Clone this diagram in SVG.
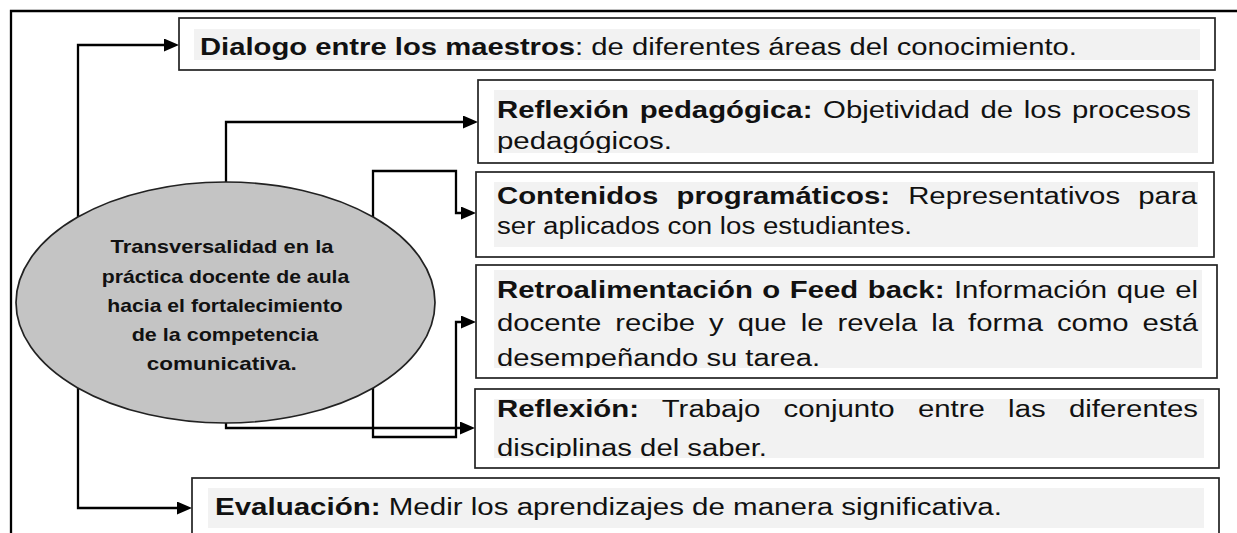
<svg xmlns="http://www.w3.org/2000/svg" width="1237" height="533" viewBox="0 0 1237 533">
<style>
.frame{fill:none;stroke:#000;stroke-width:2.3}
.box{fill:#fff;stroke:#222;stroke-width:1.7}
.shade{fill:#f2f2f2}
.con{fill:none;stroke:#000;stroke-width:2.3}
.t{font-family:"Liberation Sans",Arial,sans-serif;font-size:23px;fill:#111}
.b{font-weight:bold}
.et{font-family:"Liberation Sans",Arial,sans-serif;font-size:19px;font-weight:bold;fill:#111;text-anchor:middle}
</style>
<defs>
<marker id="arr" markerUnits="userSpaceOnUse" markerWidth="16" markerHeight="14" refX="1" refY="6.5" orient="auto">
<path d="M0,0 L15,6.5 L0,13 z" fill="#000"/>
</marker>
<clipPath id="c1"><rect x="194" y="29" width="1006" height="31"/></clipPath>
<clipPath id="c2"><rect x="494" y="90" width="704" height="63"/></clipPath>
<clipPath id="c3"><rect x="494" y="182" width="704" height="65"/></clipPath>
<clipPath id="c4"><rect x="494" y="270" width="708" height="98"/></clipPath>
<clipPath id="c5"><rect x="494" y="399" width="710" height="59"/></clipPath>
<clipPath id="c6"><rect x="208" y="488" width="996" height="40"/></clipPath>
</defs>
<path class="frame" d="M11,533 V11 H1237"/>
<g id="connectors">
<path class="con" d="M78,300 V45 H165" marker-end="url(#arr)"/>
<path class="con" d="M78,300 V508 H178" marker-end="url(#arr)"/>
<path class="con" d="M226,300 V122 H464" marker-end="url(#arr)"/>
<path class="con" d="M373,300 V171 H456 V213 H462" marker-end="url(#arr)"/>
<path class="con" d="M373,300 V437 H456 V322 H462" marker-end="url(#arr)"/>
<path class="con" d="M226,300 V428 H461" marker-end="url(#arr)"/>
</g>
<g id="center">
<ellipse cx="225.5" cy="302.5" rx="209.5" ry="120.5" fill="#c4c4c4" stroke="#222" stroke-width="1.7"/>
<text class="et" x="222" y="253" textLength="223" lengthAdjust="spacingAndGlyphs">Transversalidad en la</text>
<text class="et" x="225.5" y="282.5" textLength="247.6" lengthAdjust="spacingAndGlyphs">práctica docente de aula</text>
<text class="et" x="225" y="311.5" textLength="235.4" lengthAdjust="spacingAndGlyphs">hacia el fortalecimiento</text>
<text class="et" x="225" y="341" textLength="186.6" lengthAdjust="spacingAndGlyphs">de la competencia</text>
<text class="et" x="221.7" y="370" textLength="150" lengthAdjust="spacingAndGlyphs">comunicativa.</text>
</g>
<g id="dialogo">
<rect class="box" x="179" y="18" width="1036" height="52"/>
<rect class="shade" x="194" y="29" width="1006" height="31"/>
<text class="t" clip-path="url(#c1)" x="200" y="54.5" textLength="877" lengthAdjust="spacingAndGlyphs"><tspan class="b">Dialogo entre los maestros</tspan>: de diferentes áreas del conocimiento.</text>
</g>
<g id="reflexion-pedagogica">
<rect class="box" x="478" y="80" width="735" height="83"/>
<rect class="shade" x="494" y="90" width="704" height="63"/>
<g clip-path="url(#c2)">
<text class="t" x="497" y="117.5" word-spacing="2" textLength="694" lengthAdjust="spacingAndGlyphs"><tspan class="b">Reflexión pedagógica:</tspan> Objetividad de los procesos</text>
<text class="t" x="497" y="149" textLength="175" lengthAdjust="spacingAndGlyphs">pedagógicos.</text>
</g>
</g>
<g id="contenidos">
<rect class="box" x="476" y="172" width="738" height="85"/>
<rect class="shade" x="494" y="182" width="704" height="65"/>
<g clip-path="url(#c3)">
<text class="t" x="497" y="203.5" word-spacing="7.9" textLength="700" lengthAdjust="spacingAndGlyphs"><tspan class="b">Contenidos programáticos:</tspan> Representativos para</text>
<text class="t" x="497" y="234" textLength="415" lengthAdjust="spacingAndGlyphs">ser aplicados con los estudiantes.</text>
</g>
</g>
<g id="retroalimentacion">
<rect class="box" x="476" y="265" width="741" height="113"/>
<rect class="shade" x="494" y="270" width="708" height="98"/>
<g clip-path="url(#c4)">
<text class="t" x="497" y="298" word-spacing="1.1" textLength="701" lengthAdjust="spacingAndGlyphs"><tspan class="b">Retroalimentación o Feed back:</tspan> Información que el</text>
<text class="t" x="497" y="331" word-spacing="4.6" textLength="701" lengthAdjust="spacingAndGlyphs">docente recibe y que le revela la forma como está</text>
<text class="t" x="497" y="365.5" textLength="323" lengthAdjust="spacingAndGlyphs">desempeñando su tarea.</text>
</g>
</g>
<g id="reflexion">
<rect class="box" x="475" y="389" width="744" height="79"/>
<rect class="shade" x="494" y="399" width="710" height="59"/>
<g clip-path="url(#c5)">
<text class="t" x="497" y="417" word-spacing="11.8" textLength="701" lengthAdjust="spacingAndGlyphs"><tspan class="b">Reflexión:</tspan> Trabajo conjunto entre las diferentes</text>
<text class="t" x="497" y="456" textLength="270" lengthAdjust="spacingAndGlyphs">disciplinas del saber.</text>
</g>
</g>
<g id="evaluacion">
<rect class="box" x="192" y="478" width="1027" height="70"/>
<rect class="shade" x="208" y="488" width="996" height="40"/>
<text class="t" clip-path="url(#c6)" x="215" y="514.5" textLength="787" lengthAdjust="spacingAndGlyphs"><tspan class="b">Evaluación:</tspan> Medir los aprendizajes de manera significativa.</text>
</g>
</svg>
